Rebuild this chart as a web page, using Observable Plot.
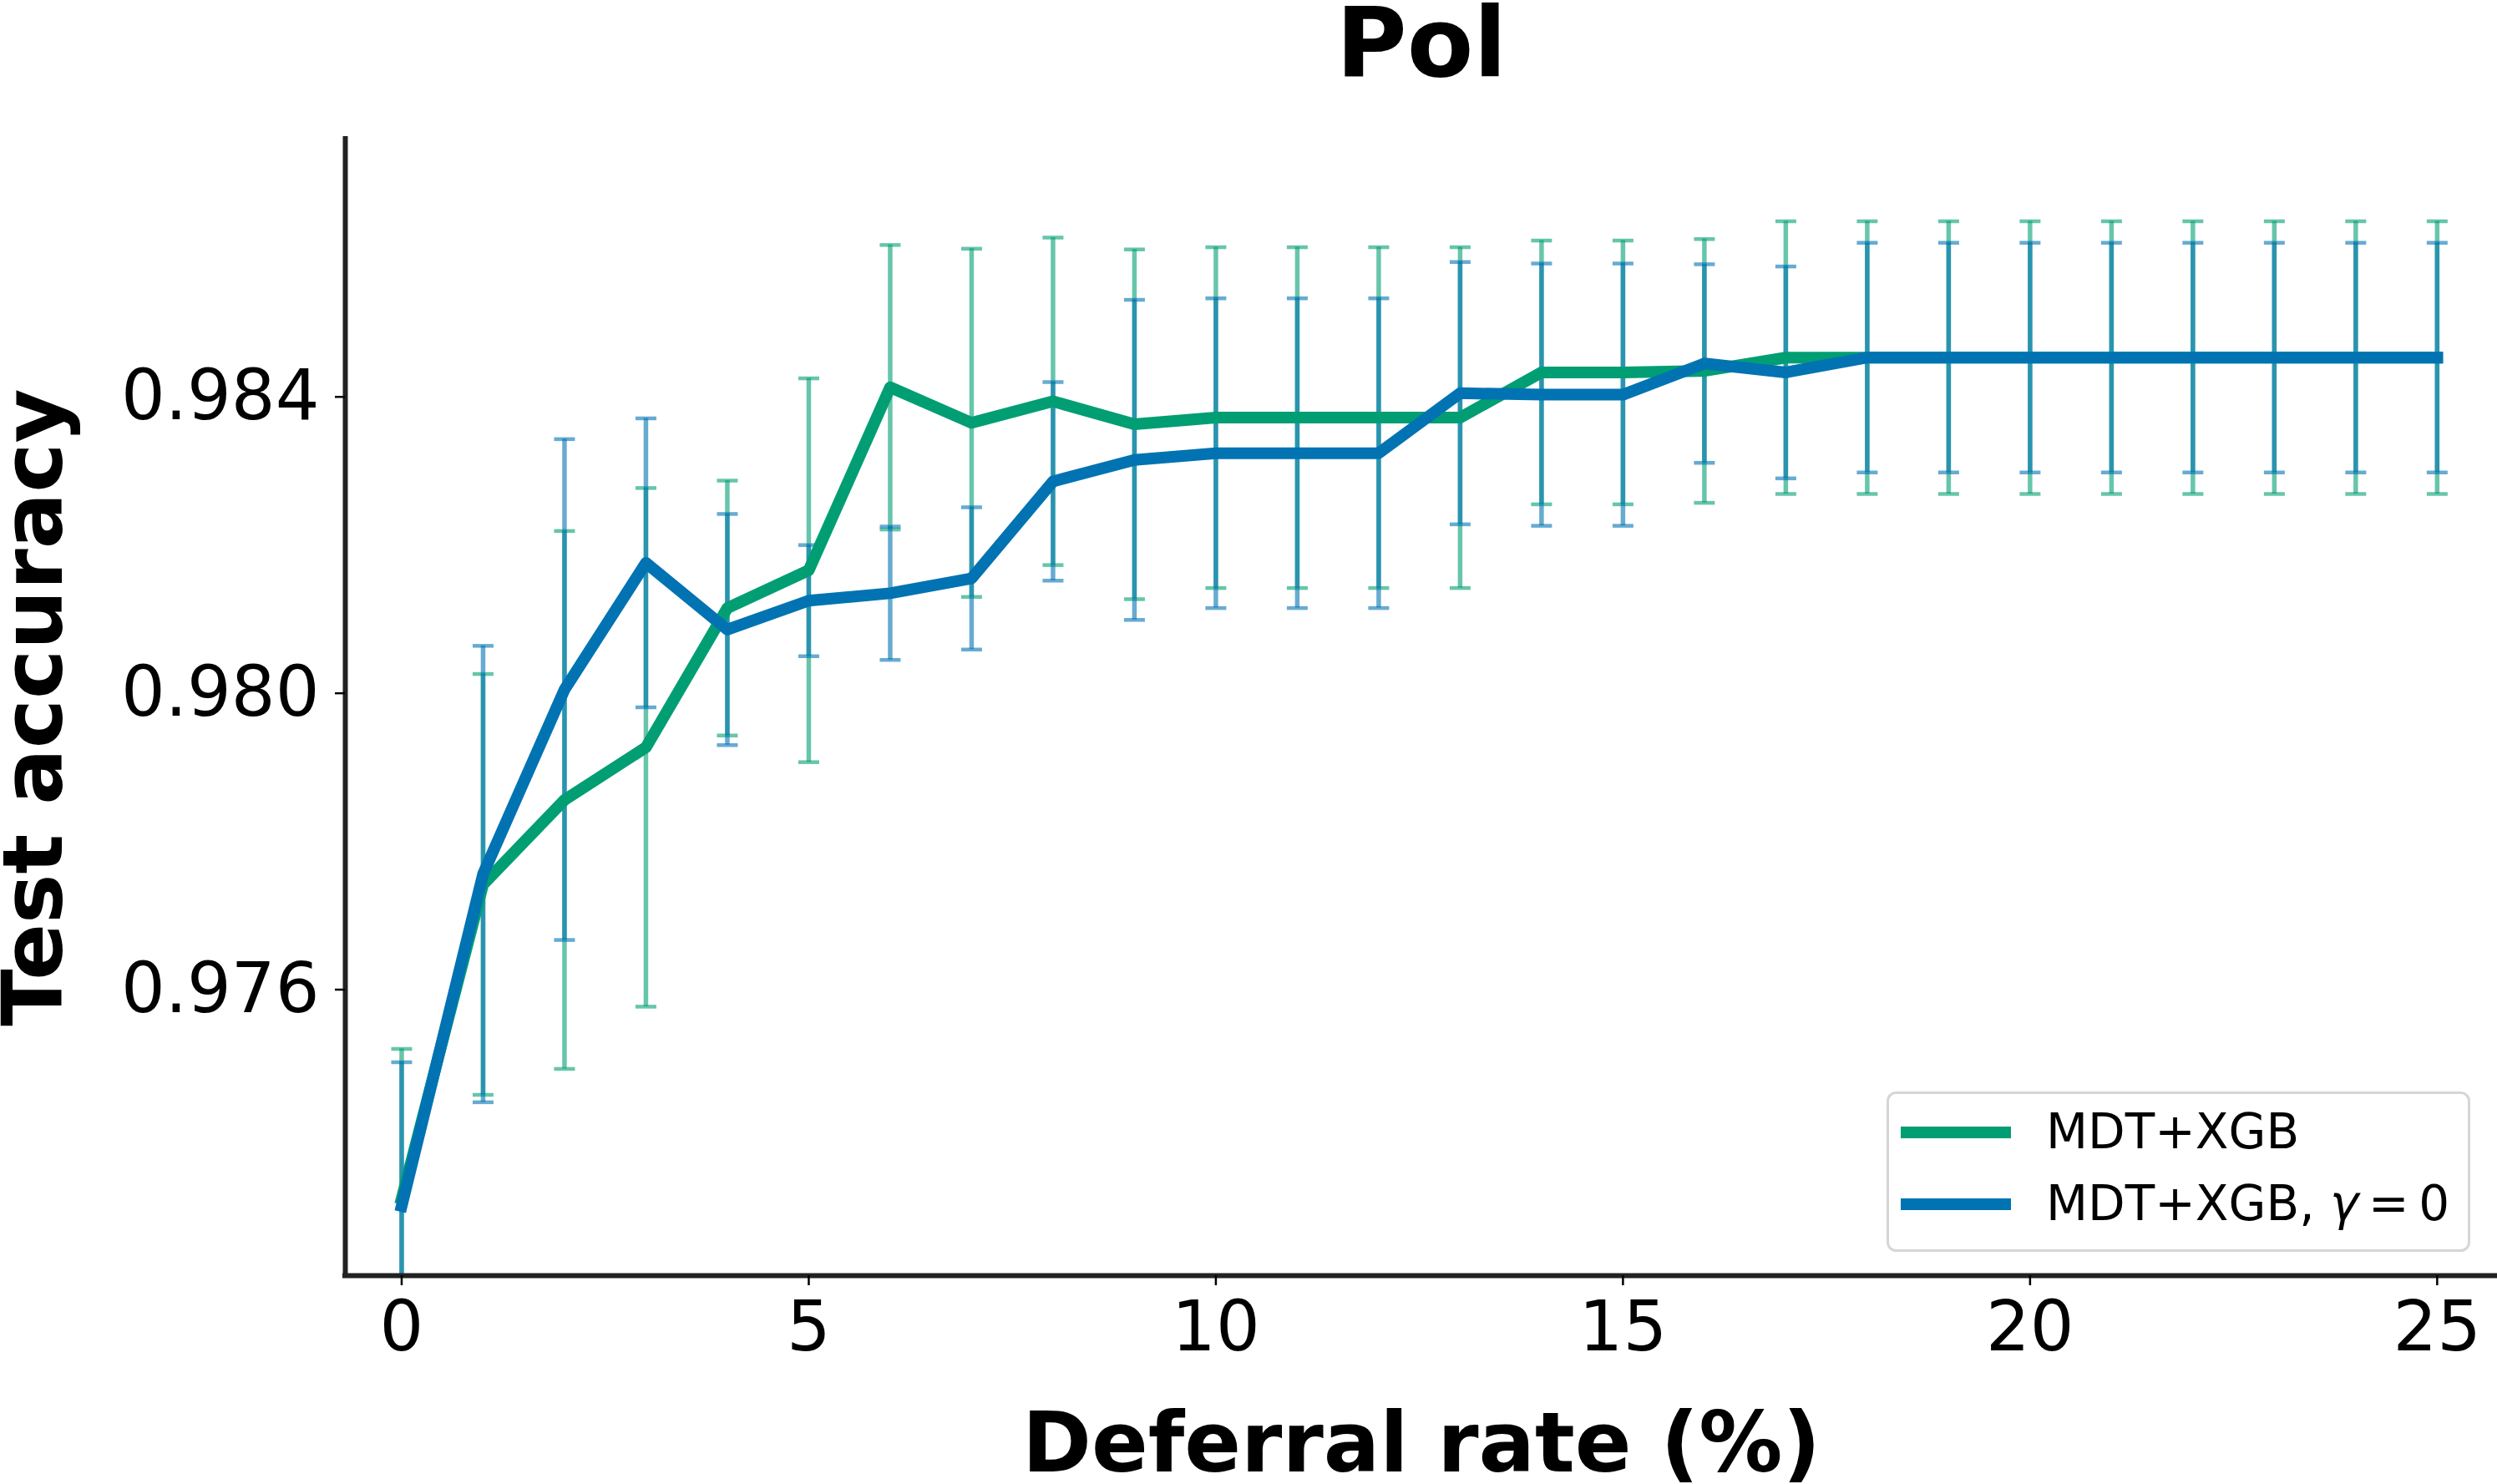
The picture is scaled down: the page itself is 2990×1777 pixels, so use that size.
<!DOCTYPE html>
<html>
<head>
<meta charset="utf-8">
<script src="https://cdn.jsdelivr.net/npm/d3@7"></script>
<script src="https://cdn.jsdelivr.net/npm/@observablehq/plot@0.6"></script>
<style>
  body { margin: 0; background: #fff; }
  #chart { position: relative; width: 2990px; height: 1777px; font-family: "DejaVu Sans", sans-serif; }
  #legend { position: absolute; left: 0; top: 0; pointer-events: none; }
</style>
</head>
<body>
<div id="chart"></div>
<script>
// Deferral rate (%) on the x axis
const deferralRates = [0, 1, 2, 3, 4, 5, 6, 7, 8, 9, 10, 11, 12, 13, 14, 15, 16, 17, 18, 19, 20, 21, 22, 23, 24, 25];

// MDT+XGB: mean test accuracy and spread
const mdtMean = [0.97318, 0.97742, 0.97856, 0.97927, 0.98115, 0.98166, 0.98413, 0.98365, 0.98394, 0.98363,
                 0.98372, 0.98372, 0.98372, 0.98372, 0.98433, 0.98433, 0.98435, 0.98453, 0.98453, 0.98453,
                 0.98453, 0.98453, 0.98453, 0.98453, 0.98453, 0.98453];
const mdtStd = [0.00202, 0.00284, 0.00363, 0.00350, 0.00172, 0.00259, 0.00192, 0.00235, 0.00221, 0.00236,
                0.00230, 0.00230, 0.00230, 0.00230, 0.00178, 0.00178, 0.00178, 0.00184, 0.00184, 0.00184,
                0.00184, 0.00184, 0.00184, 0.00184, 0.00184, 0.00184];

// MDT+XGB with gamma = 0
const gammaMean = [0.97308, 0.97756, 0.98005, 0.98176, 0.98086, 0.98125, 0.98135, 0.98155, 0.98286, 0.98315,
                   0.98324, 0.98324, 0.98324, 0.98405, 0.98403, 0.98403, 0.98445, 0.98433, 0.98453, 0.98453,
                   0.98453, 0.98453, 0.98453, 0.98453, 0.98453, 0.98453];
const gammaStd = [0.00194, 0.00308, 0.00338, 0.00195, 0.00156, 0.00075, 0.00090, 0.00096, 0.00134, 0.00216,
                  0.00209, 0.00209, 0.00209, 0.00177, 0.00177, 0.00177, 0.00134, 0.00143, 0.00155, 0.00155,
                  0.00155, 0.00155, 0.00155, 0.00155, 0.00155, 0.00155];

const seriesNames = ["MDT+XGB", "MDT+XGB, γ = 0"];
const seriesColors = ["#029E73", "#0173B2"];

const xTicks = [0, 5, 10, 15, 20, 25];
const yTicks = [0.976, 0.980, 0.984];
const xDomain = [-0.692, 25.74];
const yDomain = [0.97214, 0.98748];

const titleText = "Pol";
const xLabel = "Deferral rate (%)";
const yLabel = "Test accuracy";

// One row per (series, deferral rate)
const series = [
  {name: seriesNames[0], color: seriesColors[0],
   rows: deferralRates.map((r, i) => ({rate: r, mean: mdtMean[i], sd: mdtStd[i]}))},
  {name: seriesNames[1], color: seriesColors[1],
   rows: deferralRates.map((r, i) => ({rate: r, mean: gammaMean[i], sd: gammaStd[i]}))}
];

// Horizontal bar used as the error-bar cap
const capSymbol = {
  draw(context, size) {
    const r = Math.sqrt(size / Math.PI);
    context.moveTo(-r, 0);
    context.lineTo(r, 0);
  }
};

const marks = [];

// Error bars first (under all mean lines)
for (const s of series) {
  marks.push(
    Plot.ruleX(s.rows, {x: "rate", y1: d => d.mean - d.sd, y2: d => d.mean + d.sd,
      stroke: s.color, strokeWidth: 5.5, strokeOpacity: 0.6, clip: true}),
    Plot.dot(s.rows, {x: "rate", y: d => d.mean + d.sd, symbol: capSymbol, r: 12.5,
      fill: "none", stroke: s.color, strokeWidth: 4.5, strokeOpacity: 0.6, clip: true}),
    Plot.dot(s.rows, {x: "rate", y: d => d.mean - d.sd, symbol: capSymbol, r: 12.5,
      fill: "none", stroke: s.color, strokeWidth: 4.5, strokeOpacity: 0.6, clip: true})
  );
}

// Mean accuracy lines
for (const s of series) {
  marks.push(Plot.line(s.rows, {x: "rate", y: "mean", stroke: s.color, strokeWidth: 14,
    strokeLinejoin: "round", strokeLinecap: "square"}));
}

// Left and bottom spines
marks.push(
  Plot.ruleX([xDomain[0]], {stroke: "#222222", strokeWidth: 6, strokeLinecap: "square"}),
  Plot.ruleY([yDomain[0]], {stroke: "#222222", strokeWidth: 6, strokeLinecap: "square"})
);

// Axes
marks.push(
  Plot.axisX({ticks: xTicks, tickSize: 12, tickPadding: 19, strokeWidth: 2.5, label: null,
    tickFormat: d => String(d)}),
  Plot.axisY({ticks: yTicks, tickSize: 12, tickPadding: 19, strokeWidth: 2.5, label: null,
    tickFormat: d3.format(".3f")})
);

// Title and axis labels
marks.push(
  Plot.text([titleText], {frameAnchor: "top", dy: -76, lineAnchor: "bottom", textAnchor: "middle",
    fontSize: 116, fontWeight: "bold", fill: "black"}),
  Plot.text([xLabel], {frameAnchor: "bottom", dy: 234, lineAnchor: "bottom", textAnchor: "middle",
    fontSize: 100, fontWeight: "bold", fill: "black"}),
  Plot.text([yLabel], {frameAnchor: "left", dx: -340, rotate: -90, lineAnchor: "bottom",
    textAnchor: "middle", fontSize: 100, fontWeight: "bold", fill: "black"})
);

const chart = Plot.plot({
  width: 2990,
  height: 1777,
  marginLeft: 413,
  marginRight: 0,
  marginTop: 166,
  marginBottom: 250,
  x: {domain: xDomain},
  y: {domain: yDomain},
  style: {fontFamily: "'DejaVu Sans', sans-serif", fontSize: "83px", color: "black",
    background: "white", overflow: "visible"},
  marks
});

const host = document.getElementById("chart");
host.appendChild(chart);

// Legend box with line swatches
const legend = d3.select(host).append("svg")
  .attr("id", "legend")
  .attr("width", 2990)
  .attr("height", 1777);

const box = {x: 2260.5, y: 1308.5, w: 696, h: 189};
legend.append("rect")
  .attr("x", box.x).attr("y", box.y)
  .attr("width", box.w).attr("height", box.h)
  .attr("rx", 10).attr("ry", 10)
  .attr("fill", "white").attr("fill-opacity", 0.8)
  .attr("stroke", "#d6d6d6").attr("stroke-width", 3);

const rowGap = 86;
series.forEach((s, i) => {
  const cy = 1356 + i * rowGap;
  legend.append("line")
    .attr("x1", 2276).attr("x2", 2408)
    .attr("y1", cy).attr("y2", cy)
    .attr("stroke", s.color).attr("stroke-width", 14);
  const t = legend.append("text")
    .attr("x", 2450).attr("y", 1375 + i * rowGap)
    .attr("font-family", "'DejaVu Sans', sans-serif")
    .attr("font-size", 58)
    .attr("fill", "black");
  const parts = s.name.split("γ");
  if (parts.length === 2) {
    t.append("tspan").text(parts[0]);
    t.append("tspan").attr("font-style", "italic").text("γ");
    t.append("tspan").text(parts[1].replace(/ /g, "\u2009"));
  } else {
    t.text(s.name);
  }
});
</script>
</body>
</html>
